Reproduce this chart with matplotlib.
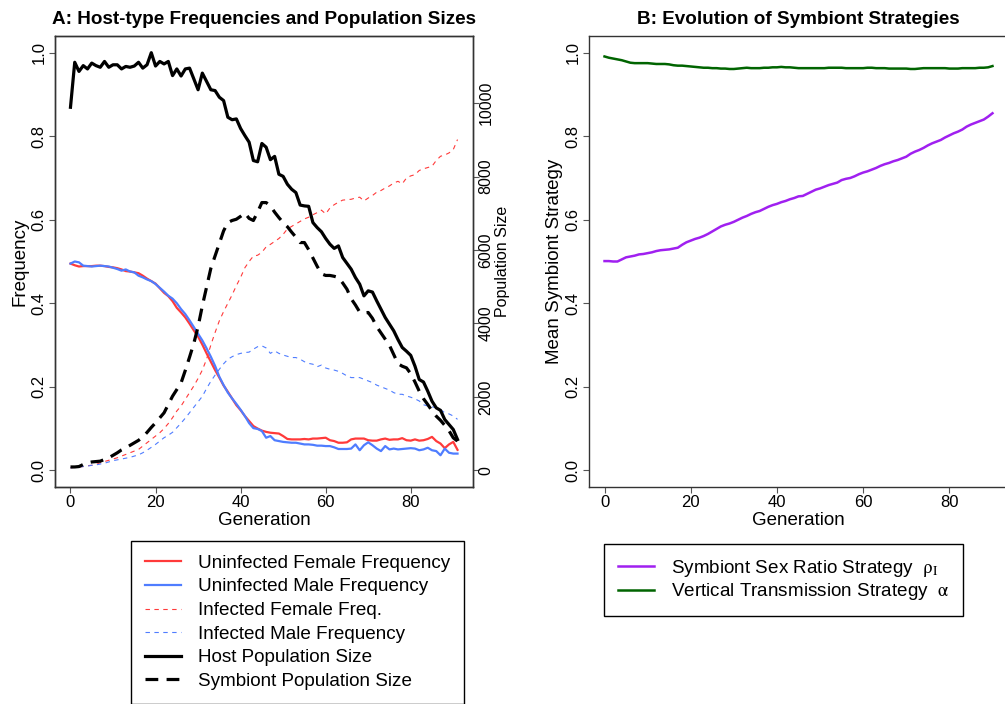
import numpy as np
import matplotlib
matplotlib.use("Agg")
import matplotlib.pyplot as plt
from matplotlib.lines import Line2D

plt.rcParams['font.family'] = ['Liberation Sans', 'DejaVu Sans']
plt.rcParams['mathtext.fontset'] = 'stix'

# ---- host run (generations 0..91) ----
gen_host = np.arange(92)

uninf_female = [0.495, 0.491, 0.488, 0.489, 0.489, 0.489, 0.490, 0.490, 0.489, 0.487,
                0.486, 0.484, 0.481, 0.477, 0.476, 0.474, 0.472, 0.466, 0.459, 0.453,
                0.447, 0.436, 0.425, 0.417, 0.405, 0.389, 0.378, 0.366, 0.351, 0.335,
                0.320, 0.301, 0.280, 0.260, 0.240, 0.222, 0.203, 0.188, 0.172, 0.156,
                0.144, 0.130, 0.118, 0.106, 0.100, 0.095, 0.092, 0.090, 0.089, 0.088,
                0.082, 0.075, 0.074, 0.074, 0.074, 0.075, 0.074, 0.076, 0.076, 0.077,
                0.078, 0.072, 0.070, 0.066, 0.066, 0.067, 0.074, 0.076, 0.076, 0.076,
                0.072, 0.071, 0.071, 0.074, 0.076, 0.073, 0.074, 0.074, 0.077, 0.072,
                0.071, 0.074, 0.071, 0.072, 0.075, 0.080, 0.070, 0.064, 0.053, 0.062,
                0.068, 0.049]

uninf_male = [0.495, 0.500, 0.498, 0.490, 0.489, 0.488, 0.489, 0.490, 0.489, 0.488,
              0.485, 0.482, 0.478, 0.481, 0.476, 0.474, 0.466, 0.462, 0.457, 0.453,
              0.446, 0.437, 0.428, 0.418, 0.411, 0.400, 0.386, 0.374, 0.359, 0.343,
              0.327, 0.311, 0.292, 0.272, 0.250, 0.224, 0.204, 0.186, 0.172, 0.159,
              0.145, 0.130, 0.113, 0.101, 0.099, 0.094, 0.078, 0.082, 0.072, 0.070,
              0.068, 0.067, 0.066, 0.066, 0.064, 0.062, 0.062, 0.061, 0.059, 0.059,
              0.058, 0.058, 0.055, 0.051, 0.051, 0.051, 0.052, 0.062, 0.048, 0.060,
              0.067, 0.060, 0.052, 0.046, 0.058, 0.050, 0.052, 0.050, 0.051, 0.052,
              0.053, 0.052, 0.048, 0.050, 0.054, 0.048, 0.046, 0.036, 0.052, 0.042,
              0.040, 0.040]

inf_female = [0.006, 0.007, 0.008, 0.009, 0.011, 0.012, 0.014, 0.018, 0.021, 0.024,
              0.027, 0.030, 0.034, 0.038, 0.042, 0.046, 0.050, 0.058, 0.066, 0.074,
              0.082, 0.090, 0.100, 0.112, 0.126, 0.142, 0.154, 0.170, 0.186, 0.202,
              0.220, 0.240, 0.266, 0.300, 0.330, 0.358, 0.380, 0.400, 0.420, 0.442,
              0.462, 0.485, 0.500, 0.513, 0.515, 0.522, 0.535, 0.541, 0.548, 0.555,
              0.565, 0.578, 0.584, 0.590, 0.596, 0.602, 0.606, 0.612, 0.617, 0.623,
              0.614, 0.628, 0.636, 0.642, 0.647, 0.648, 0.649, 0.652, 0.654, 0.645,
              0.652, 0.658, 0.666, 0.670, 0.676, 0.681, 0.688, 0.692, 0.686, 0.700,
              0.705, 0.708, 0.718, 0.722, 0.725, 0.728, 0.742, 0.752, 0.755, 0.760,
              0.768, 0.792]

inf_male = [0.006, 0.007, 0.008, 0.009, 0.010, 0.012, 0.013, 0.015, 0.017, 0.020,
            0.023, 0.025, 0.027, 0.029, 0.031, 0.034, 0.037, 0.042, 0.048, 0.055,
            0.062, 0.070, 0.078, 0.084, 0.091, 0.102, 0.113, 0.125, 0.138, 0.151,
            0.164, 0.177, 0.196, 0.213, 0.228, 0.242, 0.255, 0.266, 0.272, 0.277,
            0.280, 0.282, 0.283, 0.290, 0.296, 0.298, 0.293, 0.280, 0.286, 0.280,
            0.276, 0.273, 0.270, 0.270, 0.266, 0.260, 0.256, 0.254, 0.248, 0.252,
            0.245, 0.242, 0.240, 0.237, 0.232, 0.226, 0.222, 0.222, 0.222, 0.218,
            0.214, 0.210, 0.204, 0.200, 0.196, 0.192, 0.186, 0.182, 0.182, 0.178,
            0.175, 0.171, 0.166, 0.157, 0.154, 0.152, 0.150, 0.145, 0.138, 0.135,
            0.130, 0.122]

host_pop = [9888, 11113, 10864, 11022, 10932, 11091, 11022, 10977, 11136, 10977,
            11045, 11045, 10932, 11000, 10977, 11011, 11113, 10954, 11045, 11374,
            11011, 11136, 11068, 11136, 10750, 10932, 10739, 10932, 10954, 10660,
            10365, 10818, 10592, 10365, 10342, 10161, 10070, 9616, 9548, 9571,
            9310, 9117, 8936, 8437, 8403, 8902, 8800, 8460, 8550, 8063,
            8006, 7791, 7655, 7564, 7224, 7201, 7190, 6747, 6611, 6498,
            6316, 6158, 6044, 6112, 5795, 5636, 5477, 5250, 5069, 4751,
            4888, 4854, 4615, 4389, 4162, 3980, 3799, 3561, 3345, 3243,
            3130, 2835, 2472, 2404, 2155, 1882, 1701, 1633, 1383, 1247,
            1111, 839]

symb_pop = [91, 91, 102, 159, 204, 227, 238, 249, 295, 340,
            408, 476, 556, 612, 680, 748, 816, 907, 1032, 1168,
            1293, 1429, 1565, 1792, 2019, 2200, 2381, 2722, 3084, 3459,
            3912, 4479, 4990, 5500, 5840, 6180, 6521, 6747, 6804, 6838,
            6917, 7008, 6861, 6804, 7031, 7292, 7292, 7201, 7031, 6883,
            6747, 6634, 6486, 6350, 6203, 6203, 6010, 5783, 5557, 5352,
            5307, 5307, 5284, 5250, 5103, 4933, 4672, 4502, 4309, 4287,
            4298, 4139, 3912, 3742, 3572, 3402, 3153, 2903, 2835, 2790,
            2631, 2404, 2155, 1950, 1792, 1622, 1474, 1361, 1225, 1077,
            885, 794]

# ---- strategy run (generations 0..90) ----
gen_strat = np.arange(91)

rho_strategy = [0.501, 0.501, 0.500, 0.500, 0.505, 0.510, 0.512, 0.514, 0.517, 0.518,
                0.520, 0.522, 0.525, 0.527, 0.528, 0.529, 0.531, 0.533, 0.540, 0.546,
                0.550, 0.554, 0.557, 0.561, 0.566, 0.572, 0.578, 0.584, 0.588, 0.591,
                0.595, 0.600, 0.605, 0.609, 0.614, 0.618, 0.621, 0.626, 0.631, 0.635,
                0.638, 0.642, 0.645, 0.649, 0.652, 0.656, 0.657, 0.662, 0.667, 0.672,
                0.675, 0.679, 0.683, 0.686, 0.689, 0.695, 0.698, 0.700, 0.704, 0.709,
                0.713, 0.716, 0.720, 0.724, 0.729, 0.733, 0.736, 0.740, 0.743, 0.747,
                0.751, 0.758, 0.763, 0.767, 0.772, 0.778, 0.783, 0.787, 0.791, 0.797,
                0.802, 0.807, 0.811, 0.816, 0.823, 0.828, 0.832, 0.836, 0.840, 0.847,
                0.855]

alpha_strategy = [0.991, 0.988, 0.986, 0.984, 0.982, 0.979, 0.976, 0.975, 0.975, 0.975,
                  0.975, 0.974, 0.973, 0.973, 0.973, 0.972, 0.970, 0.969, 0.969, 0.968,
                  0.967, 0.966, 0.965, 0.964, 0.964, 0.963, 0.963, 0.962, 0.962, 0.961,
                  0.961, 0.962, 0.963, 0.964, 0.963, 0.963, 0.963, 0.964, 0.964, 0.965,
                  0.965, 0.966, 0.965, 0.965, 0.964, 0.963, 0.963, 0.963, 0.963, 0.963,
                  0.963, 0.963, 0.964, 0.964, 0.964, 0.964, 0.963, 0.963, 0.963, 0.963,
                  0.963, 0.964, 0.964, 0.963, 0.963, 0.963, 0.962, 0.962, 0.962, 0.962,
                  0.962, 0.961, 0.961, 0.962, 0.963, 0.963, 0.963, 0.963, 0.963, 0.963,
                  0.962, 0.962, 0.962, 0.963, 0.963, 0.963, 0.963, 0.964, 0.964, 0.965,
                  0.968]

RED = "#ff3a3a"
BLUE = "#4f7dff"
PURPLE = "#a020f0"
GREEN = "#006400"
W, H = 1005, 704
LEG_FS = 13.6
LAB_FS = 13.5


def px_axes(x0, y0, x1, y1):
    # axes rectangle given in pixel coords (top-left origin)
    return [x0 / W, 1 - y1 / H, (x1 - x0) / W, (y1 - y0) / H]


def r_style(ax):
    for s in ax.spines.values():
        s.set_linewidth(1.0)
        s.set_color("#333333")
    ax.tick_params(length=4, width=0.8, color="#555555", labelsize=12, pad=2)
    plt.setp(ax.get_yticklabels(), rotation=90, va="center")


def boxed(leg):
    leg.get_frame().set_edgecolor("black")
    leg.get_frame().set_linewidth(1.0)


fig = plt.figure(figsize=(W / 100, H / 100), dpi=100)

# Panel A
ax = fig.add_axes(px_axes(55, 36, 473, 487))
ax.plot(gen_host, uninf_female, color=RED, lw=1.6)
ax.plot(gen_host, uninf_male, color=BLUE, lw=1.6)
ax.plot(gen_host, inf_female, color=RED, lw=0.8, dashes=(4, 4))
ax.plot(gen_host, inf_male, color=BLUE, lw=0.8, dashes=(4, 4))
ax.set_xlim(-0.04 * 91, 91 * 1.04)
ax.set_ylim(-0.04, 1.04)
ax.set_xticks([0, 20, 40, 60, 80])
ax.set_yticks([0.0, 0.2, 0.4, 0.6, 0.8, 1.0])
ax.set_yticklabels(["0.0", "0.2", "0.4", "0.6", "0.8", "1.0"])
ax.set_xlabel("Generation", fontsize=LAB_FS, labelpad=1)
ax.set_ylabel("Frequency", fontsize=LAB_FS, labelpad=2)
ax.set_title("A: Host-type Frequencies and Population Sizes", fontsize=13.6,
             fontweight="bold", pad=9)
r_style(ax)

ax2 = ax.twinx()
pmax = max(host_pop)
ax2.plot(gen_host, host_pop, color="black", lw=2.3)
ax2.plot(gen_host, symb_pop, color="black", lw=2.3, dashes=(4, 2.6))
ax2.set_ylim(-0.04 * pmax, 1.04 * pmax)
ax2.set_yticks([0, 2000, 4000, 6000, 8000, 10000])
ax2.set_ylabel("Population Size", fontsize=11.5, labelpad=1)
r_style(ax2)
ax2.tick_params(labelsize=11.5, pad=0)
plt.setp(ax2.get_yticklabels(), rotation=90, va="center")

# Panel B
bx = fig.add_axes(px_axes(589, 36, 1008, 487))
bx.plot(gen_strat, rho_strategy, color=PURPLE, lw=1.8)
bx.plot(gen_strat, alpha_strategy, color=GREEN, lw=1.8)
bx.set_xlim(-0.04 * 90, 90 * 1.04)
bx.set_ylim(-0.04, 1.04)
bx.set_xticks([0, 20, 40, 60, 80])
bx.set_yticks([0.0, 0.2, 0.4, 0.6, 0.8, 1.0])
bx.set_yticklabels(["0.0", "0.2", "0.4", "0.6", "0.8", "1.0"])
bx.set_xlabel("Generation", fontsize=LAB_FS, labelpad=1)
bx.set_ylabel("Mean Symbiont Strategy", fontsize=LAB_FS, labelpad=2)
bx.set_title("B: Evolution of Symbiont Strategies", fontsize=13.6,
             fontweight="bold", pad=9)
r_style(bx)

# legends below each panel
leg_a = [
    Line2D([], [], color=RED, lw=1.6),
    Line2D([], [], color=BLUE, lw=1.6),
    Line2D([], [], color=RED, lw=0.8, dashes=(4, 4)),
    Line2D([], [], color=BLUE, lw=0.8, dashes=(4, 4)),
    Line2D([], [], color="black", lw=2.3),
    Line2D([], [], color="black", lw=2.3, dashes=(4, 2.6)),
]
names_a = ["Uninfected Female Frequency", "Uninfected Male Frequency",
           "Infected Female Freq.", "Infected Male Frequency",
           "Host Population Size", "Symbiont Population Size"]
la = fig.legend(leg_a, names_a, loc="upper left",
                bbox_to_anchor=(131 / W, 1 - 541 / H), fontsize=LEG_FS,
                handlelength=1.95, handletextpad=0.9, labelspacing=0.34,
                borderpad=0.72, borderaxespad=0, fancybox=False, framealpha=1)
boxed(la)

leg_b = [Line2D([], [], color=PURPLE, lw=1.8), Line2D([], [], color=GREEN, lw=1.8)]
names_b = [r"Symbiont Sex Ratio Strategy  $\mathrm{\rho_{I}}$",
           r"Vertical Transmission Strategy  $\mathrm{\alpha}$"]
lb = fig.legend(leg_b, names_b, loc="upper left",
                bbox_to_anchor=(604 / W, 1 - 544 / H), fontsize=LEG_FS,
                handlelength=1.95, handletextpad=0.9, labelspacing=0.15,
                borderpad=0.72, borderaxespad=0, fancybox=False, framealpha=1)
boxed(lb)

fig.savefig("out.png", dpi=100)
